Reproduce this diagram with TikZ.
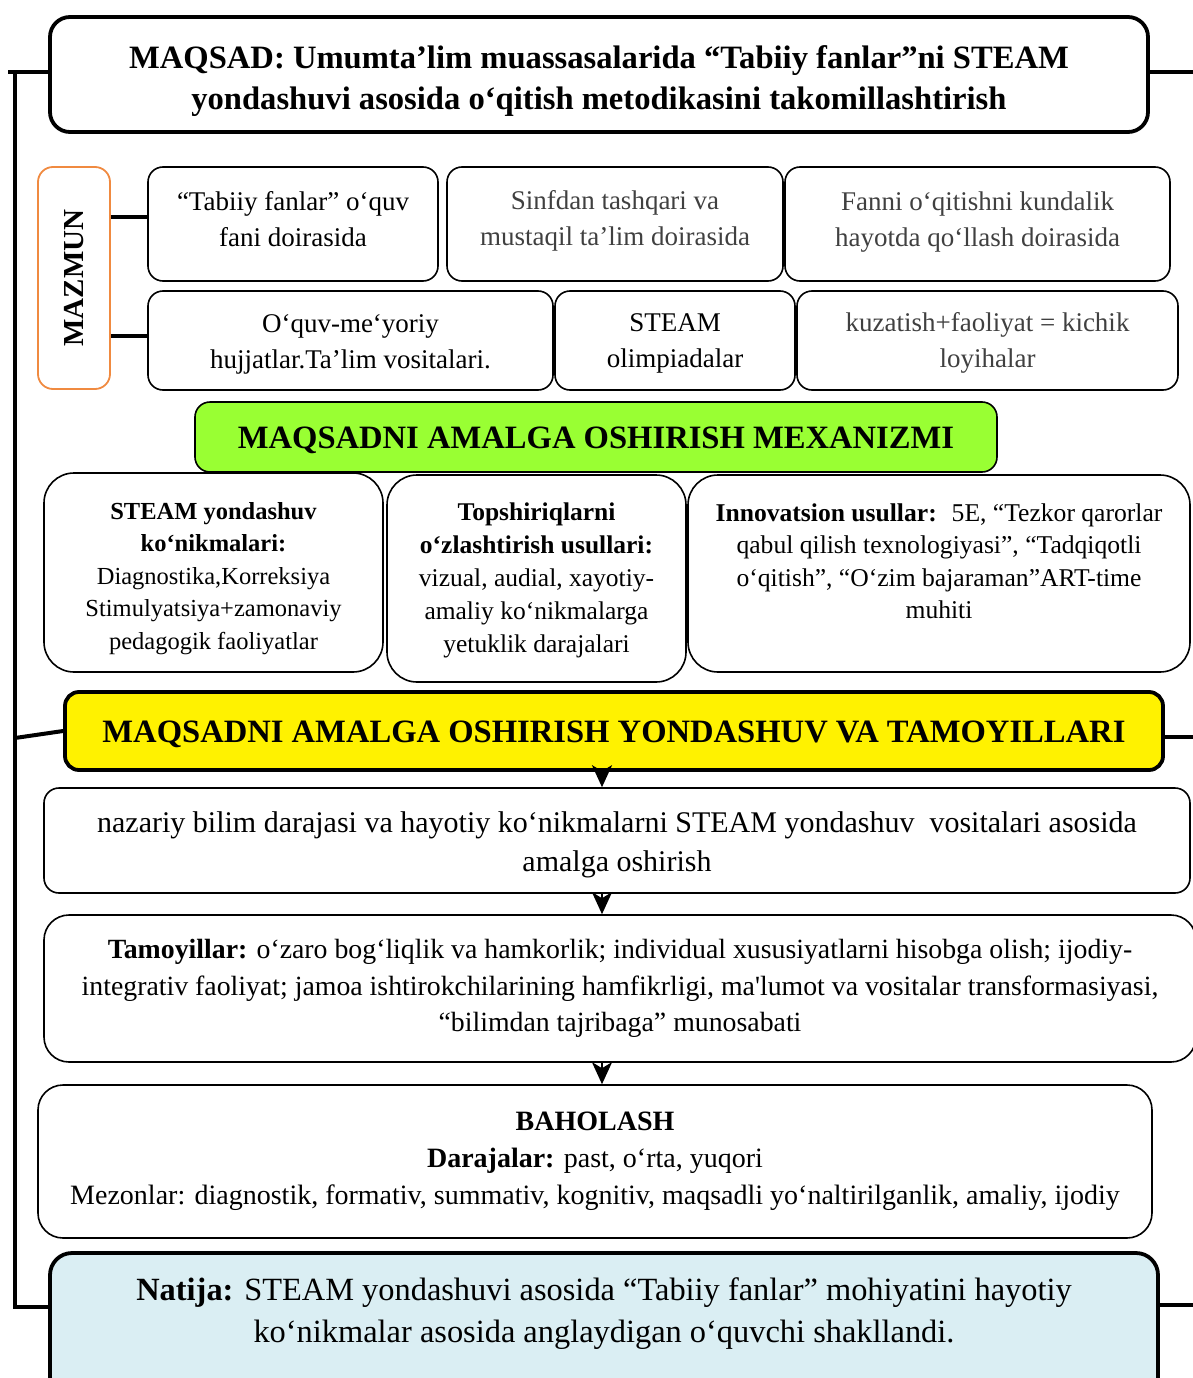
\documentclass[tikz,border=0pt]{standalone}
\usepackage{fontspec}
\setmainfont{Liberation Serif}
\usetikzlibrary{arrows.meta}
\definecolor{greytext}{HTML}{404040}
\definecolor{limefill}{HTML}{99FF33}
\definecolor{orangeline}{HTML}{F08A40}
\definecolor{paleblue}{HTML}{DAEEF3}
\newcommand{\fsz}[2]{\fontsize{#1}{#2}\selectfont}
\newcommand{\padtop}[1]{\rule{0pt}{#1}}
\newcommand{\padbot}[1]{\rule[-#1]{0pt}{0pt}}

\begin{document}
\begin{tikzpicture}[x=1pt, y=-1pt]
        % boxes are placed by their centres, sizes in px of the scan
        \tikzset{box/.style={draw=black, rounded corners=15pt, line width=1.6pt, align=center, inner sep=0pt},
                 heavy/.style={box, rounded corners=20pt, line width=3.8pt},
                 stub/.style={line width=4pt},
                 flow/.style={-{Stealth[length=22pt, width=20pt, inset=6pt]}, line width=2.8pt}}
        \useasboundingbox (0,0) rectangle (1193,1378);

        \node[heavy, minimum width=1098pt, minimum height=115pt, font=\fsz{32.6}{41}\bfseries] (MQ) at (599,74.5)
                {\padtop{36pt}MAQSAD: Umumta’lim muassasalarida “Tabiiy fanlar”ni STEAM\\
                 yondashuvi asosida o‘qitish metodikasini takomillashtirish};

        \node[box, draw=orangeline, line width=1.8pt, minimum width=72pt, minimum height=222pt] (MZ) at (74,278) {};
        \node[rotate=90, font=\fsz{29}{34}\bfseries] (MZt) at (MZ.center) {MAZMUN};

        \node[box, minimum width=290pt, minimum height=114pt, font=\fsz{27}{36}] (A1) at (293,224)
                {“Tabiiy fanlar” o‘quv\\ fani doirasida\padbot{10pt}};
        \node[box, minimum width=336pt, minimum height=114pt, text=greytext, font=\fsz{27}{36}] (A2) at (615,224)
                {Sinfdan tashqari va\\ mustaqil ta’lim doirasida\padbot{12pt}};
        \node[box, minimum width=385pt, minimum height=114pt, text=greytext, font=\fsz{27}{36}] (A3) at (977.5,224)
                {Fanni o‘qitishni kundalik\\ hayotda qo‘llash doirasida\padbot{10pt}};

        \node[box, minimum width=405pt, minimum height=99pt, font=\fsz{27}{36}] (B1) at (350.5,340.5)
                {\padtop{26.5pt}O‘quv-me‘yoriy\\ hujjatlar.Ta’lim vositalari.};
        \node[box, minimum width=240pt, minimum height=99pt, font=\fsz{27}{36}] (B2) at (675,340.5)
                {\padtop{24pt}STEAM\\ olimpiadalar};
        \node[box, minimum width=381pt, minimum height=99pt, text=greytext, font=\fsz{27}{36}] (B3) at (987.5,340.5)
                {\padtop{24.5pt}kuzatish+faoliyat = kichik\\ loyihalar};

        \draw[stub] ([yshift=7pt]MZ.east |- A1.west) -- ([yshift=7pt]A1.west);
        \draw[stub] ([yshift=5pt]MZ.east |- B1.west) -- ([yshift=5pt]B1.west);

        \node[box, fill=limefill, minimum width=802pt, minimum height=70pt, font=\fsz{32.6}{40}\bfseries] (MX) at (596,437)
                {\padtop{27.6pt}MAQSADNI AMALGA OSHIRISH MEXANIZMI};

        \node[box, rounded corners=30pt, minimum width=339pt, minimum height=199pt, font=\fsz{24.5}{32.5}] (C1) at (213.5,572.5)
                {\padtop{28.7pt}\textbf{STEAM yondashuv}\\ \textbf{ko‘nikmalari:}\\ Diagnostika,Korreksiya\\
                 Stimulyatsiya+zamonaviy\\ pedagogik faoliyatlar};
        \node[box, rounded corners=30pt, minimum width=299pt, minimum height=207pt, font=\fsz{25.5}{33}] (C2) at (536.5,578.5)
                {\padtop{21.3pt}\textbf{Topshiriqlarni}\\ \textbf{o‘zlashtirish usullari:}\\ vizual, audial, xayotiy-\\
                 amaliy ko‘nikmalarga\\ yetuklik darajalari};
        \node[box, rounded corners=30pt, minimum width=502pt, minimum height=197pt] (C3) at (939,573.5)
                {\parbox[c][140pt][t]{490pt}{\centering\fsz{25.6}{32.5}\textbf{Innovatsion usullar:}~ 5E, “Tezkor qarorlar\\
                 qabul qilish texnologiyasi”, “Tadqiqotli\\ o‘qitish”, “O‘zim bajaraman”ART-time\\ muhiti}};

        \node[heavy, fill=yellow, rounded corners=14pt, minimum width=1098pt, minimum height=78pt, font=\fsz{32.6}{40}\bfseries] (YT) at (614,731)
                {\padtop{27.6pt}MAQSADNI AMALGA OSHIRISH YONDASHUV VA TAMOYILLARI};

        \node[box, minimum width=1146pt, minimum height=105pt, font=\fsz{30}{39}] (D1) at (617,840.5)
                {\padtop{30.4pt}nazariy bilim darajasi va hayotiy ko‘nikmalarni STEAM yondashuv~ vositalari asosida\\ amalga oshirish};
        \node[box, rounded corners=25pt, minimum width=1152pt, minimum height=147pt, font=\fsz{27.8}{36.5}] (D2) at (620,988.5)
                {\textbf{Tamoyillar:} o‘zaro bog‘liqlik va hamkorlik; individual xususiyatlarni hisobga olish; ijodiy-\\
                 integrativ faoliyat; jamoa ishtirokchilarining hamfikrligi, ma\textquotesingle lumot va vositalar transformasiyasi,\\
                 “bilimdan tajribaga” munosabati};
        \node[box, rounded corners=25pt, minimum width=1114pt, minimum height=153pt, font=\fsz{28}{37}] (D3) at (595,1161.5)
                {\textbf{BAHOLASH}\\ \textbf{Darajalar:} past, o‘rta, yuqori\\
                 Mezonlar: diagnostik, formativ, summativ, kognitiv, maqsadli yo‘naltirilganlik, amaliy, ijodiy};

        \node[heavy, fill=paleblue, rounded corners=22pt, minimum width=1108pt, minimum height=146pt, font=\fsz{32.4}{42}] (NT) at (604,1326)
                {\textbf{Natija:} STEAM yondashuvi asosida “Tabiiy fanlar” mohiyatini hayotiy\\
                 ko‘nikmalar asosida anglaydigan o‘quvchi shakllandi.\padbot{31pt}};

        % spine on the left and stubs on the right
        \coordinate (S0) at (8,72);
        \coordinate (S1) at (15,72);
        \coordinate (S2) at (15,738);
        \coordinate (S3) at (15,1307);
        \coordinate (R0) at (1193,72);
        \coordinate (R1) at (1193,737);
        \coordinate (R2) at (1193,1305);
        \coordinate (AX) at (602,0);
        \draw[stub] (S0) -- (MQ.west |- S0);
        \draw[stub] (S1) -- (S3) -- (NT.west |- S3);
        \draw[stub] (S2) -- (YT.west);
        \draw[stub] (MQ.east |- R0) -- (R0);
        \draw[stub] (YT.east |- R1) -- (R1);
        \draw[stub] (NT.east |- R2) -- (R2);

        \draw[flow] (YT.south -| AX) -- (D1.north -| AX);
        \draw[flow] (D1.south -| AX) -- (D2.north -| AX);
        \draw[flow] (D2.south -| AX) -- (D3.north -| AX);
\end{tikzpicture}
\end{document}
